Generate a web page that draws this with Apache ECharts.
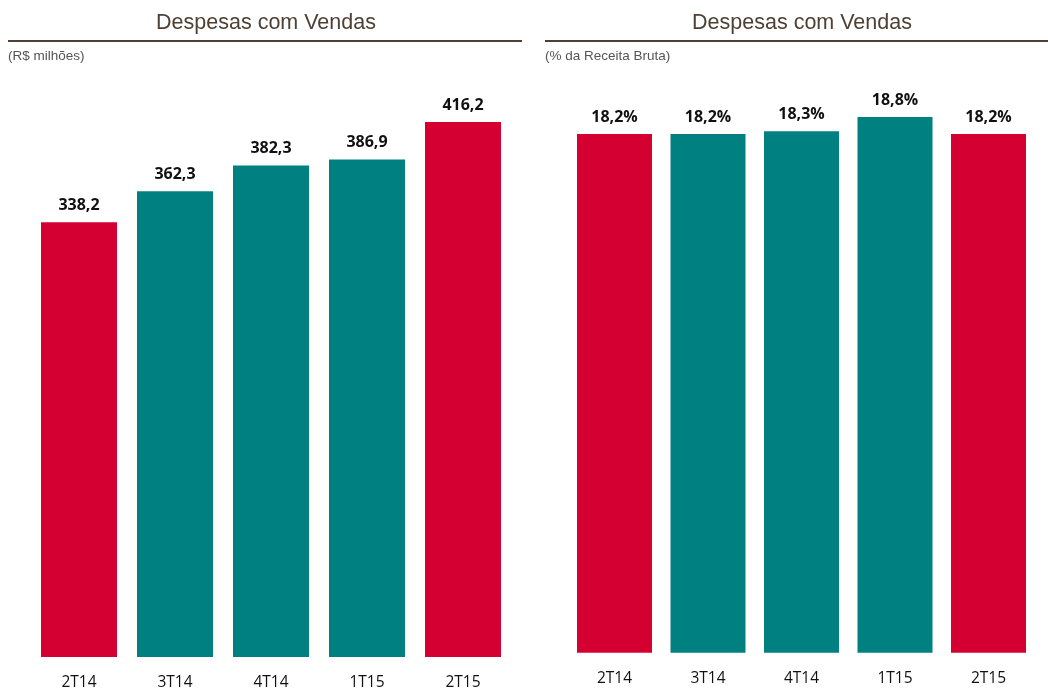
<!DOCTYPE html>
<html>
<head>
<meta charset="utf-8">
<script src="https://cdn.jsdelivr.net/npm/echarts@6/dist/echarts.min.js"></script>
<style>
  html, body { margin: 0; padding: 0; background: #fff; }
  #chart { width: 1048px; height: 691px; }
</style>
</head>
<body>
<div id="chart"></div>
<script>
var categories = ['2T14', '3T14', '4T14', '1T15', '2T15'];
var valoresMilhoes = [338.2, 362.3, 382.3, 386.9, 416.2];
var valoresPercent = [18.2, 18.2, 18.3, 18.8, 18.2];
var RED = '#d50032';
var TEAL = '#008080';
var barColors = [RED, TEAL, TEAL, TEAL, RED];

var chart = echarts.init(document.getElementById('chart'));

function fmt(v, suffix) {
    return v.toFixed(1).replace('.', ',') + (suffix || '');
}

function makeData(values) {
    return values.map(function (v, i) {
        return { value: v, itemStyle: { color: barColors[i] } };
    });
}

var labelFont = '"Open Sans", "Noto Sans", sans-serif';
var titleFont = '"Liberation Sans", Arial, sans-serif';

var option = {
    animation: false,
    title: [
        {
            text: 'Despesas com Vendas',
            left: 261, top: 7, textAlign: 'center',
            textStyle: { fontFamily: titleFont, fontSize: 21.5, fontWeight: 'normal', color: '#4e4034' }
        },
        {
            text: 'Despesas com Vendas',
            left: 797, top: 7, textAlign: 'center',
            textStyle: { fontFamily: titleFont, fontSize: 21.5, fontWeight: 'normal', color: '#4e4034' }
        },
        {
            text: '(R$ milhões)',
            left: 3, top: 44,
            textStyle: { fontFamily: titleFont, fontSize: 13.5, fontWeight: 'normal', color: '#555' }
        },
        {
            text: '(% da Receita Bruta)',
            left: 540, top: 44,
            textStyle: { fontFamily: titleFont, fontSize: 13.5, fontWeight: 'normal', color: '#555' }
        }
    ],
    graphic: [
        { type: 'line', shape: { x1: 8, y1: 41, x2: 522, y2: 41 }, style: { stroke: '#4e4034', lineWidth: 2 } },
        { type: 'line', shape: { x1: 545, y1: 41, x2: 1048, y2: 41 }, style: { stroke: '#4e4034', lineWidth: 2 } }
    ],
    grid: [
        { left: 31, width: 480, top: 78.5, bottom: 33 },
        { left: 567.75, width: 467.5, top: 82.8, bottom: 38.3 }
    ],
    xAxis: [
        {
            type: 'category', gridIndex: 0, data: categories,
            axisLine: { show: false }, axisTick: { show: false },
            axisLabel: { margin: 18, fontSize: 15.5, color: '#111', fontFamily: labelFont }
        },
        {
            type: 'category', gridIndex: 1, data: categories,
            axisLine: { show: false }, axisTick: { show: false },
            axisLabel: { margin: 18, fontSize: 15.5, color: '#111', fontFamily: labelFont }
        }
    ],
    yAxis: [
        { type: 'value', gridIndex: 0, min: 0, max: 450, show: false, splitLine: { show: false } },
        { type: 'value', gridIndex: 1, min: 0, max: 20, show: false, splitLine: { show: false } }
    ],
    series: [
        {
            type: 'bar', xAxisIndex: 0, yAxisIndex: 0,
            barWidth: 76,
            data: makeData(valoresMilhoes),
            label: {
                show: true, position: 'top', distance: 9,
                fontFamily: labelFont, fontSize: 16, fontWeight: 'bold', color: '#111',
                formatter: function (p) { return fmt(p.value); }
            }
        },
        {
            type: 'bar', xAxisIndex: 1, yAxisIndex: 1,
            barWidth: 75,
            data: makeData(valoresPercent),
            label: {
                show: true, position: 'top', distance: 9,
                fontFamily: labelFont, fontSize: 16, fontWeight: 'bold', color: '#111',
                formatter: function (p) { return fmt(p.value, '%'); }
            }
        }
    ]
};

chart.setOption(option);
</script>
</body>
</html>
